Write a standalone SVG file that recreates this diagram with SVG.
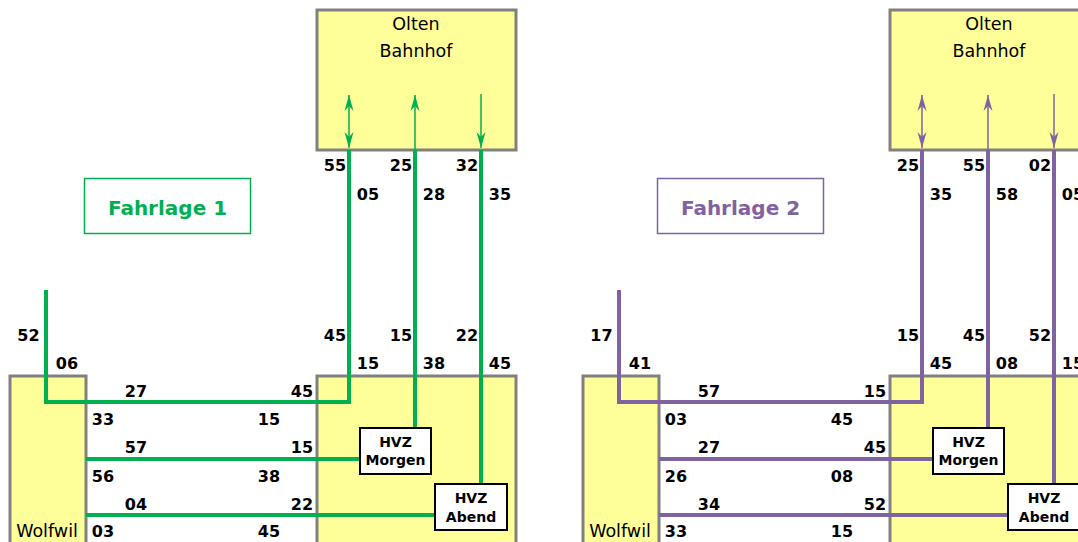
<svg xmlns="http://www.w3.org/2000/svg" width="1078" height="542" viewBox="0 0 1078 542">
<style>
.box{fill:#ffff99;stroke:#808080;stroke-width:3}
.hvz{fill:#ffffff;stroke:#000000;stroke-width:2}
.num{font-family:"DejaVu Sans",sans-serif;font-weight:bold;font-size:16px;fill:#000;text-anchor:middle}
.st{font-family:"DejaVu Sans",sans-serif;font-size:17.5px;fill:#000;text-anchor:middle}
.hv{font-family:"DejaVu Sans",sans-serif;font-weight:bold;font-size:14px;fill:#000;text-anchor:middle}
.fl{font-family:"DejaVu Sans",sans-serif;font-weight:bold;font-size:20px;text-anchor:middle}
.g{stroke:#00b050;fill:none}
.p{stroke:#7f63a1;fill:none}
.thick{stroke-width:4;stroke-linejoin:miter}
.thin{stroke-width:1.5}
</style>
<defs>
<marker id="ag" markerUnits="userSpaceOnUse" viewBox="-17 -6 18 12" refX="0" refY="0" markerWidth="18" markerHeight="12" orient="auto-start-reverse"><path d="M0,0 L-16,-4.5 L-11,0 L-16,4.5 Z" fill="#00b050"/></marker>
<marker id="ap" markerUnits="userSpaceOnUse" viewBox="-17 -6 18 12" refX="0" refY="0" markerWidth="18" markerHeight="12" orient="auto-start-reverse"><path d="M0,0 L-16,-4.5 L-11,0 L-16,4.5 Z" fill="#7f63a1"/></marker>
</defs>

<!-- Panel 1 -->
<g id="olten1"><rect class="box" x="317" y="10" width="199" height="140"/><text class="st" x="416" y="30">Olten</text><text class="st" x="416" y="57">Bahnhof</text></g>
<g id="wolfwil1"><rect class="box" x="10" y="376" width="76" height="180"/><text class="st" x="47" y="537">Wolfwil</text></g>
<g id="hvzarea1"><rect class="box" x="317" y="376" width="199" height="180"/></g>
<g id="fahrlage1"><rect x="84.5" y="178.5" width="166" height="55" fill="#fff" stroke="#00b050" stroke-width="1.5"/><text class="fl" x="167.5" y="215" fill="#00b050">Fahrlage 1</text></g>

<g id="connectors1">
<path class="g thick" d="M349,150 V402 H46 V290"/>
<path class="g thick" d="M415,150 V428"/>
<path class="g thick" d="M481,150 V484"/>
<path class="g thick" d="M86,459 H360"/>
<path class="g thick" d="M86,515 H435"/>
<path class="g thin" d="M349,95 V148" marker-start="url(#ag)" marker-end="url(#ag)"/>
<path class="g thin" d="M415,150 V95" marker-end="url(#ag)"/>
<path class="g thin" d="M481,94 V148" marker-end="url(#ag)"/>
</g>

<g id="hvzm1"><rect class="hvz" x="360" y="428" width="71" height="46"/><text class="hv" x="395.5" y="447">HVZ</text><text class="hv" x="395.5" y="465">Morgen</text></g>
<g id="hvza1"><rect class="hvz" x="435" y="484" width="72" height="46"/><text class="hv" x="471" y="503">HVZ</text><text class="hv" x="471" y="522">Abend</text></g>

<g id="labels1">
<text class="num" x="335" y="171">55</text><text class="num" x="401" y="171">25</text><text class="num" x="467" y="171">32</text>
<text class="num" x="368" y="200">05</text><text class="num" x="434" y="200">28</text><text class="num" x="500" y="200">35</text>
<text class="num" x="28.5" y="341">52</text><text class="num" x="335" y="341">45</text><text class="num" x="401" y="341">15</text><text class="num" x="467" y="341">22</text>
<text class="num" x="67" y="369">06</text><text class="num" x="368" y="369">15</text><text class="num" x="434" y="369">38</text><text class="num" x="500" y="369">45</text>
<text class="num" x="136" y="397">27</text><text class="num" x="302" y="397">45</text>
<text class="num" x="103" y="425">33</text><text class="num" x="269" y="425">15</text>
<text class="num" x="136" y="453">57</text><text class="num" x="302" y="453">15</text>
<text class="num" x="103" y="482">56</text><text class="num" x="269" y="482">38</text>
<text class="num" x="136" y="510">04</text><text class="num" x="302" y="510">22</text>
<text class="num" x="103" y="537">03</text><text class="num" x="269" y="537">45</text>
</g>

<!-- Panel 2 -->
<g id="olten2"><rect class="box" x="890" y="10" width="199" height="140"/><text class="st" x="989" y="30">Olten</text><text class="st" x="989" y="57">Bahnhof</text></g>
<g id="wolfwil2"><rect class="box" x="583" y="376" width="76" height="180"/><text class="st" x="620" y="537">Wolfwil</text></g>
<g id="hvzarea2"><rect class="box" x="890" y="376" width="199" height="180"/></g>
<g id="fahrlage2"><rect x="657.5" y="178.5" width="166" height="55" fill="#fff" stroke="#7f63a1" stroke-width="1.5"/><text class="fl" x="740.5" y="215" fill="#7f63a1">Fahrlage 2</text></g>

<g id="connectors2">
<path class="p thick" d="M922,150 V402 H619 V290"/>
<path class="p thick" d="M988,150 V428"/>
<path class="p thick" d="M1054,150 V484"/>
<path class="p thick" d="M659,459 H933"/>
<path class="p thick" d="M659,515 H1008"/>
<path class="p thin" d="M922,95 V148" marker-start="url(#ap)" marker-end="url(#ap)"/>
<path class="p thin" d="M988,150 V95" marker-end="url(#ap)"/>
<path class="p thin" d="M1054,94 V148" marker-end="url(#ap)"/>
</g>

<g id="hvzm2"><rect class="hvz" x="933" y="428" width="71" height="46"/><text class="hv" x="968.5" y="447">HVZ</text><text class="hv" x="968.5" y="465">Morgen</text></g>
<g id="hvza2"><rect class="hvz" x="1008" y="484" width="72" height="46"/><text class="hv" x="1044" y="503">HVZ</text><text class="hv" x="1044" y="522">Abend</text></g>

<g id="labels2">
<text class="num" x="908" y="171">25</text><text class="num" x="974" y="171">55</text><text class="num" x="1040" y="171">02</text>
<text class="num" x="941" y="200">35</text><text class="num" x="1007" y="200">58</text><text class="num" x="1073" y="200">05</text>
<text class="num" x="601.5" y="341">17</text><text class="num" x="908" y="341">15</text><text class="num" x="974" y="341">45</text><text class="num" x="1040" y="341">52</text>
<text class="num" x="640" y="369">41</text><text class="num" x="941" y="369">45</text><text class="num" x="1007" y="369">08</text><text class="num" x="1073" y="369">15</text>
<text class="num" x="709" y="397">57</text><text class="num" x="875" y="397">15</text>
<text class="num" x="676" y="425">03</text><text class="num" x="842" y="425">45</text>
<text class="num" x="709" y="453">27</text><text class="num" x="875" y="453">45</text>
<text class="num" x="676" y="482">26</text><text class="num" x="842" y="482">08</text>
<text class="num" x="709" y="510">34</text><text class="num" x="875" y="510">52</text>
<text class="num" x="676" y="537">33</text><text class="num" x="842" y="537">15</text>
</g>
</svg>
